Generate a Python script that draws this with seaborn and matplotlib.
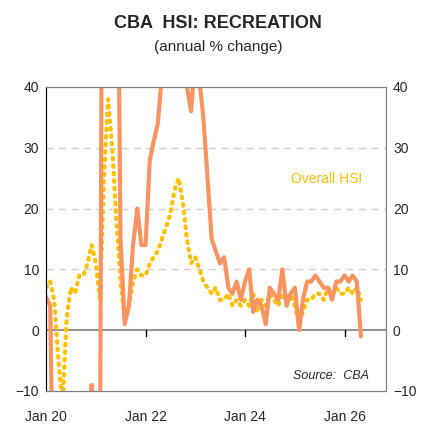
import numpy as np
import pandas as pd
import seaborn as sns
import matplotlib.pyplot as plt

# monthly, Jan 2020 onwards
months = pd.date_range("2020-01-01", periods=77, freq="MS")
recreation = [5.5, 4, -40, -40, -40, -40, -40, -40, -40, -40, -40, -9, -40, -20,
              150, 150, 150, 90, 15, 1, 4, 14, 20, 14, 14, 28, 31, 34, 42, 60,
              60, 60, 60, 60, 40, 36, 45, 41, 35, 25, 15, 13, 11, 12, 7, 6, 8,
              5, 8, 10, 3, 5, 4, 1, 7, 6, 5, 10, 4, 6, 7, 0, 5, 8, 8, 9, 8, 7,
              7, 5, 8, 8, 9, 8, 9, 8, -1]
overall = [7, 8, 5, -5, -12, 2, 7, 6, 9, 9, 11, 14, 11, 5, 25, 38, 30, 18, 8, 2,
           4, 8, 10, 9, 9, 11, 12, 13, 15, 17, 19, 23, 25, 21, 15, 11, 12, 10,
           8, 7, 6, 7, 5, 5, 6, 4, 5, 4, 5, 4, 6, 3, 5, 4, 6, 5, 4, 6, 5, 6,
           4, 1, 3, 5, 5, 6, 6, 5, 7, 6, 7, 6, 6, 7, 6, 7, 5]
tick_dates = pd.to_datetime(["2020-01-01", "2022-01-01", "2024-01-01", "2026-01-01"])
tick_labels = ["Jan 20", "Jan 22", "Jan 24", "Jan 26"]

df = pd.DataFrame({"date": months, "recreation": recreation, "overall": overall})

sns.set_style("white")
plt.rcParams["font.family"] = ["Liberation Sans", "DejaVu Sans"]

fig = plt.figure(figsize=(4.36, 4.33), dpi=100)
ax = fig.add_axes([46/436, 42/433, 340/436, 304/433])

ax.set_ylim(-10, 40)
ax.set_xlim(pd.Timestamp("2020-01-01"), pd.Timestamp("2026-11-01"))
for y in [10, 20, 30]:
    ax.axhline(y, color="#d0d0d0", lw=1, ls=(0, (5, 4)), zorder=0)
ax.axhline(0, color="#808080", lw=1.2, zorder=1)

sns.lineplot(data=df, x="date", y="overall", ax=ax, color="#ffc000", lw=3,
             linestyle=(0, (0.4, 1.4)), dash_capstyle="round")
sns.lineplot(data=df, x="date", y="recreation", ax=ax, color="#f79462", lw=3)

# small tick marks hanging below the zero line
for tk in tick_dates[1:]:
    ax.plot([tk, tk], [0, -1], color="black", lw=1, zorder=1)

ax.set_xticks(tick_dates)
ax.set_xticklabels(tick_labels)
ax.set_yticks([-10, 0, 10, 20, 30, 40])
ax.tick_params(axis="both", labelsize=10, length=0, pad=5)
ax.tick_params(axis="x", pad=14)
ax.set_xlabel("")
ax.set_ylabel("")

ax2 = ax.twinx()
ax2.set_ylim(-10, 40)
ax2.set_yticks([-10, 0, 10, 20, 30, 40])
ax2.tick_params(labelsize=10, length=0, pad=5)

for a in (ax, ax2):
    for s in a.spines.values():
        s.set_color("#808080")
    a.spines["left"].set_color("black")

ax.text(0.93, 0.685, "Overall HSI", transform=ax.transAxes, color="#ffc000",
        fontsize=10, ha="right")
ax.text(0.95, 0.04, "Source:  CBA", transform=ax.transAxes, fontsize=9,
        style="italic", ha="right")
fig.text(0.5, 0.935, "CBA  HSI: RECREATION", ha="center", fontsize=13, weight="bold")
fig.text(0.5, 0.883, "(annual % change)", ha="center", fontsize=11)

fig.savefig("out.png", dpi=100)
